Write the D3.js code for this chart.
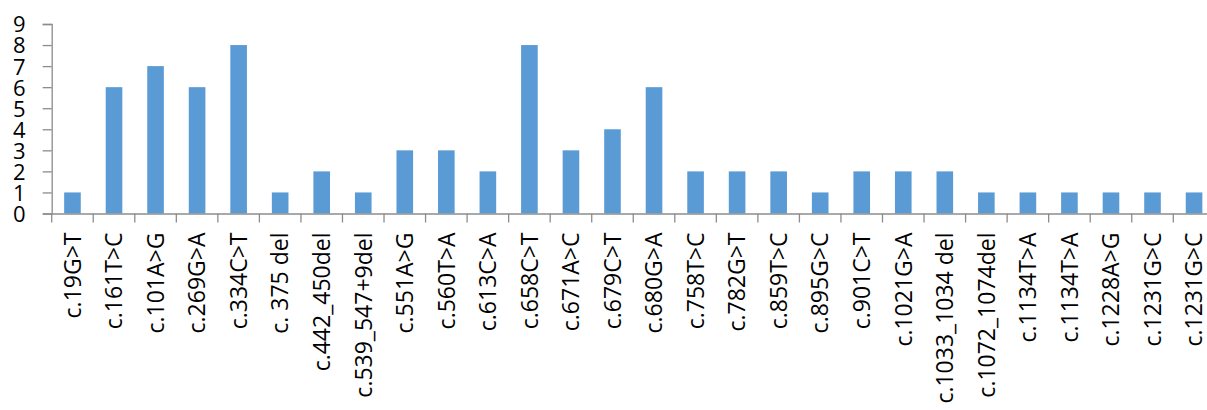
<!DOCTYPE html>
<html>
<head>
<meta charset="utf-8">
<script src="https://cdn.jsdelivr.net/npm/d3@7"></script>
<style>
  html, body { margin: 0; padding: 0; background: #fff; overflow: hidden; }
  text { font-family: "Open Sans", "Noto Sans", sans-serif; fill: #000; }
</style>
</head>
<body>
<svg id="chart" width="1207" height="410"></svg>
<script>
const categories = ["c.19G>T","c.161T>C","c.101A>G","c.269G>A","c.334C>T","c. 375 del","c.442_450del","c.539_547+9del","c.551A>G","c.560T>A","c.613C>A","c.658C>T","c.671A>C","c.679C>T","c.680G>A","c.758T>C","c.782G>T","c.859T>C","c.895G>C","c.901C>T","c.1021G>A","c.1033_1034 del","c.1072_1074del","c.1134T>A","c.1134T>A","c.1228A>G","c.1231G>C","c.1231G>C"];
const values = [1,6,7,6,8,1,2,1,3,3,2,8,3,4,6,2,2,2,1,2,2,2,1,1,1,1,1,1];
const yTicks = [0,1,2,3,4,5,6,7,8,9];

const svg = d3.select("#chart");
const x0 = 51.7, step = 41.54;
const idx = d3.range(categories.length);
const x = d3.scaleBand().domain(idx).range([x0, x0 + step * categories.length]).padding(0);
const y = d3.scaleLinear().domain([0, 9]).range([213.5, 24]);
const axisColor = "#8c8c8c";

// bars
const bw = x.bandwidth() * 0.4;
svg.append("g").selectAll("rect").data(values).join("rect")
  .attr("x", (d, i) => x(i) + (x.bandwidth() - bw) / 2)
  .attr("y", d => y(d))
  .attr("width", bw)
  .attr("height", d => y(0) - y(d))
  .attr("fill", "#5B9BD5");

// y axis
const yAxis = svg.append("g").attr("transform", `translate(${x0},0)`)
  .call(d3.axisLeft(y).tickValues(yTicks).tickSize(9).tickPadding(0).tickFormat(d3.format("d")));
yAxis.select(".domain").attr("stroke", axisColor).attr("stroke-width", 1.3);
yAxis.selectAll(".tick line").attr("stroke", axisColor).attr("stroke-width", 1.3);
yAxis.selectAll(".tick text").attr("x", -26).attr("dy", "0.36em")
  .style("font-size", "22px").attr("text-anchor", "end");

// x axis
const xAxis = svg.append("g").attr("transform", `translate(0,${y(0)})`)
  .call(d3.axisBottom(x).tickSize(0).tickPadding(0).tickFormat(i => categories[i]));
xAxis.select(".domain").attr("stroke", axisColor).attr("stroke-width", 1.3);
xAxis.selectAll(".tick line").remove();
// boundary ticks between categories
const bounds = d3.range(categories.length + 1).map(i => x0 + i * step);
xAxis.append("g").selectAll("line").data(bounds).join("line")
  .attr("x1", d => d).attr("x2", d => d).attr("y1", 0).attr("y2", 9)
  .attr("stroke", axisColor).attr("stroke-width", 1.3);
xAxis.selectAll(".tick text")
  .attr("transform", "rotate(-90)")
  .attr("x", -19).attr("y", 0).attr("dy", "0.36em")
  .attr("text-anchor", "end")
  .style("font-size", "23px");
</script>
</body>
</html>
